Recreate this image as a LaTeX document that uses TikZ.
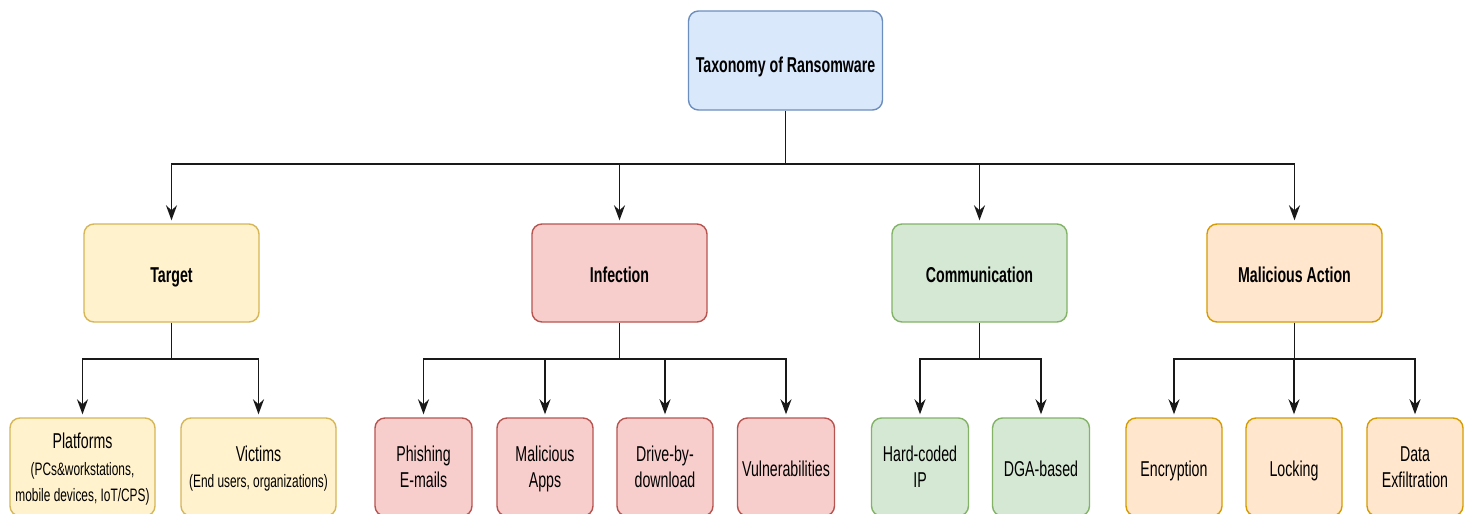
\documentclass[tikz,border=0pt]{standalone}
\usepackage{fontspec}
\setmainfont[FakeStretch=0.66]{Liberation Sans}
\usetikzlibrary{arrows.meta}

% draw.io palette
\definecolor{bluefill}{HTML}{DAE8FC}\definecolor{bluedraw}{HTML}{6C8EBF}
\definecolor{yelfill}{HTML}{FFF2CC}\definecolor{yeldraw}{HTML}{D6B656}
\definecolor{redfill}{HTML}{F8CECC}\definecolor{reddraw}{HTML}{B85450}
\definecolor{grnfill}{HTML}{D5E8D4}\definecolor{grndraw}{HTML}{82B366}
\definecolor{orgfill}{HTML}{FFE6CC}\definecolor{orgdraw}{HTML}{D79B00}

\newcommand{\subtext}[1]{{\fontsize{18}{26}\selectfont #1}}

\tikzset{
  box/.style={rectangle, rounded corners=10pt, line width=1.4pt, inner sep=0pt,
    align=center, text=black, font=\fontsize{21.5}{26}\selectfont},
  head/.style={box, minimum width=175pt, minimum height=98pt,
    text height=22pt, text depth=4pt, font=\bfseries\fontsize{21.5}{26}\selectfont},
  leaf/.style={box, minimum height=98pt},
  oneline/.style={text height=23pt, text depth=4pt},
  root/.style={head, fill=bluefill, draw=bluedraw, minimum width=194pt, minimum height=99pt,
    text height=27pt, text depth=4pt},
  yel/.style={fill=yelfill, draw=yeldraw},
  red/.style={fill=redfill, draw=reddraw},
  grn/.style={fill=grnfill, draw=grndraw},
  org/.style={fill=orgfill, draw=orgdraw},
  link/.style={line width=1.6pt, draw=black!90},
  arr/.style={link, -{Stealth[length=15pt,width=11pt,inset=5pt]}, shorten >=3pt}
}

\begin{document}
\begin{tikzpicture}[x=1pt, y=-1pt]
\useasboundingbox (0,0) rectangle (1470,514);
\fill[white] (0,0) rectangle (1470,514);

% root
\node[root] (root) at (785.5,60.5) {Taxonomy of Ransomware};

% categories
\node[head, yel] (target) at (171.5,273) {Target};
\node[head, red] (infect) at (619.5,273) {Infection};
\node[head, grn] (comm)   at (979.5,273) {Communication};
\node[head, org] (mal)    at (1294.5,273) {Malicious Action};

% leaves
\node[leaf, yel, minimum width=145pt] (plat) at (82.5,467)
  {Platforms\\[1pt]\subtext{(PCs\&workstations,}\\\subtext{\smash{mobile devices, IoT/CPS)}}};
\node[leaf, yel, minimum width=155pt] (vict) at (258.5,467)
  {Victims\\\subtext{\smash{(End users, organizations)}}};

\node[leaf, red, minimum width=97pt] (phish) at (423.5,467) {Phishing\\\smash{E-mails}};
\node[leaf, red, minimum width=96pt] (apps)  at (545,467) {Malicious\\\smash{Apps}};
\node[leaf, red, minimum width=96pt] (drive) at (665,467) {Drive-by-\\\smash{download}};
\node[leaf, red, minimum width=97pt, oneline] (vuln) at (786,467) {Vulnerabilities};

\node[leaf, grn, minimum width=97pt] (hard) at (920,467) {Hard-coded\\\smash{IP}};
\node[leaf, grn, minimum width=97pt, oneline] (dga) at (1041,467) {DGA-based};

\node[leaf, org, minimum width=96pt, oneline] (enc)  at (1174,467) {Encryption};
\node[leaf, org, minimum width=96pt, oneline] (lock) at (1294,467) {Locking};
\node[leaf, org, minimum width=96pt] (exf)  at (1415,467) {Data\\\smash{Exfiltration}};

% bus points
\coordinate (b0) at (785.5,164);
\coordinate (b1) at (171.5,359);
\coordinate (b2) at (619.5,359);
\coordinate (b3) at (979.5,359);
\coordinate (b4) at (1294.5,359);

% root to categories
\draw[link] (root.south) -- (b0);
\foreach \n in {target,infect,comm,mal}
  \draw[arr] (b0) -| (\n.north);

% categories to leaves
\draw[link] (target.south) -- (b1);
\foreach \n in {plat,vict} \draw[arr] (b1) -| (\n.north);
\draw[link] (infect.south) -- (b2);
\foreach \n in {phish,apps,drive,vuln} \draw[arr] (b2) -| (\n.north);
\draw[link] (comm.south) -- (b3);
\foreach \n in {hard,dga} \draw[arr] (b3) -| (\n.north);
\draw[link] (mal.south) -- (b4);
\foreach \n in {enc,lock,exf} \draw[arr] (b4) -| (\n.north);
\end{tikzpicture}
\end{document}
